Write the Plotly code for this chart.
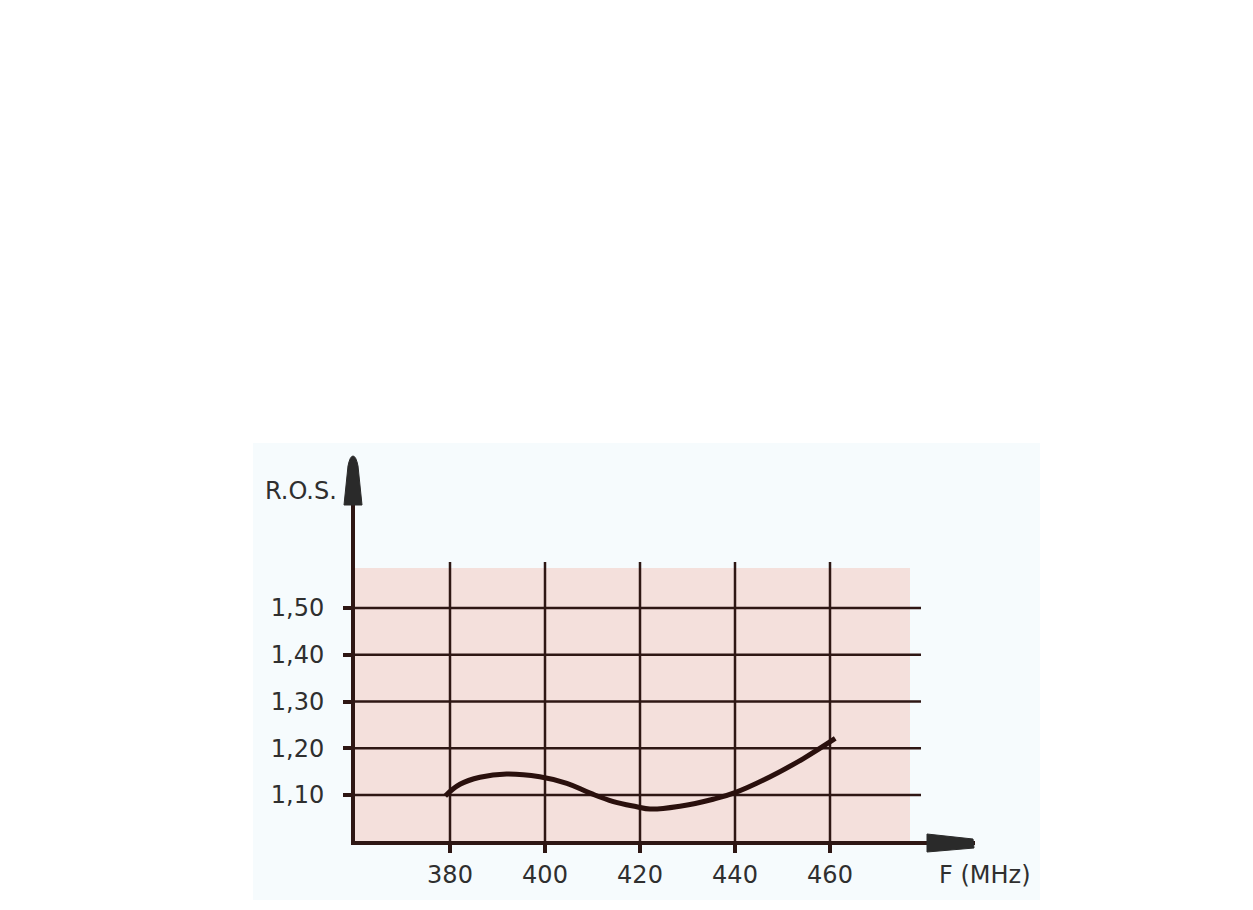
import plotly.graph_objects as go

# ---- data ----
freq_mhz = [379, 382.1, 386.3, 391.9, 398.9, 404.6, 409.5, 414.4, 419.3,
            422.1, 428.4, 435.4, 440, 447.4, 454.4, 461.1]
ros = [1.098, 1.123, 1.138, 1.145, 1.139, 1.125, 1.104, 1.086, 1.075,
       1.070, 1.076, 1.091, 1.105, 1.139, 1.178, 1.221]

x_ticks = [380, 400, 420, 440, 460]
x_ticklabels = ["380", "400", "420", "440", "460"]
y_ticks = [1.10, 1.20, 1.30, 1.40, 1.50]
y_ticklabels = ["1,10", "1,20", "1,30", "1,40", "1,50"]

# ---- layout geometry (page pixels) ----
OFF = 8                      # browser body margin
W, H = 1253 - 2 * OFF, 910 - 2 * OFF
# plot area edges in page pixels (axis lines are drawn 2px outside)
L, R, T, B = 355, 975, 458, 841

def xval(p):  # page pixel x -> MHz
    return 380 + (p - 450) / 4.75

def yval(p):  # page pixel y -> ROS
    return 1.10 - (p - 795) / 467.5

X_RANGE = [xval(L), xval(R)]
Y_RANGE = [yval(B), yval(T)]

def px(x):  # page pixel x -> paper
    return (x - L) / (R - L)

def py(y):  # page pixel y -> paper
    return (B - y) / (B - T)

INK = "#2e1714"
TEXT = "#2f2f2f"
PINK = "#f4e0dc"
BG = "#f6fbfd"
FONT = "DejaVu Sans, Liberation Sans, sans-serif"

shapes = []
# light blue panel
shapes.append(dict(type="rect", xref="paper", yref="paper", layer="below",
                   x0=px(253), x1=px(1040), y0=py(900), y1=py(443),
                   fillcolor=BG, line=dict(width=0)))
# pink grid area
shapes.append(dict(type="rect", xref="x", yref="y", layer="below",
                   x0=X_RANGE[0], x1=xval(910), y0=Y_RANGE[0], y1=yval(568),
                   fillcolor=PINK, line=dict(width=0)))
# vertical grid lines
for xv in x_ticks:
    shapes.append(dict(type="line", xref="x", yref="y", layer="below",
                       x0=xv, x1=xv, y0=Y_RANGE[0], y1=yval(562),
                       line=dict(color=INK, width=2.5)))
# horizontal grid lines
for yv in y_ticks:
    shapes.append(dict(type="line", xref="x", yref="y", layer="below",
                       x0=X_RANGE[0], x1=xval(921), y0=yv, y1=yv,
                       line=dict(color=INK, width=2.5)))
# y arrow head
shapes.append(dict(type="path", xref="paper", yref="paper",
                   path=(f"M {px(344)},{py(505)} L {px(362)},{py(505)} "
                         f"L {px(358)},{py(466)} Q {px(356)},{py(456)} {px(353)},{py(456)} "
                         f"Q {px(350)},{py(456)} {px(348)},{py(466)} Z"),
                   fillcolor="#2a2a2a", line=dict(color="#2a2a2a", width=1)))
# x arrow head
shapes.append(dict(type="path", xref="paper", yref="paper",
                   path=(f"M {px(927)},{py(834)} L {px(973)},{py(839)} "
                         f"L {px(974)},{py(848)} L {px(927)},{py(852)} Z"),
                   fillcolor="#2a2a2a", line=dict(color="#2a2a2a", width=1)))

fig = go.Figure()
fig.add_trace(go.Scatter(x=freq_mhz, y=ros, mode="lines",
                         line=dict(color="#2a100d", width=5, shape="spline", smoothing=1.2),
                         hoverinfo="skip", showlegend=False))

fig.update_layout(
    width=W, height=H,
    margin=dict(l=L - OFF, r=W - (R - OFF), t=T - OFF, b=H - (B - OFF), pad=0),
    paper_bgcolor="white", plot_bgcolor="rgba(0,0,0,0)",
    shapes=shapes,
    showlegend=False,
    font=dict(family=FONT, color=TEXT, size=22),
    xaxis=dict(range=X_RANGE, showgrid=False, zeroline=False,
               showline=True, linecolor=INK, linewidth=4,
               tickvals=x_ticks, ticktext=x_ticklabels,
               ticks="outside", ticklen=8, tickwidth=4, tickcolor=INK,
               ticklabelstandoff=1,
               tickfont=dict(family=FONT, size=24, color=TEXT)),
    yaxis=dict(range=Y_RANGE, showgrid=False, zeroline=False,
               showline=True, linecolor=INK, linewidth=4,
               tickvals=y_ticks, ticktext=y_ticklabels,
               ticks="outside", ticklen=8, tickwidth=4, tickcolor=INK,
               ticklabelstandoff=14,
               tickfont=dict(family=FONT, size=24, color=TEXT)),
    annotations=[
        dict(text="R.O.S.", xref="paper", yref="paper", x=px(339), y=py(491),
             xanchor="right", yanchor="middle", showarrow=False,
             font=dict(family=FONT, size=24, color=TEXT)),
        dict(text="F (MHz)", xref="paper", yref="paper", x=px(985), y=py(875),
             xanchor="center", yanchor="middle", showarrow=False,
             font=dict(family=FONT, size=24, color=TEXT)),
    ],
)

fig.write_html("out.html")
